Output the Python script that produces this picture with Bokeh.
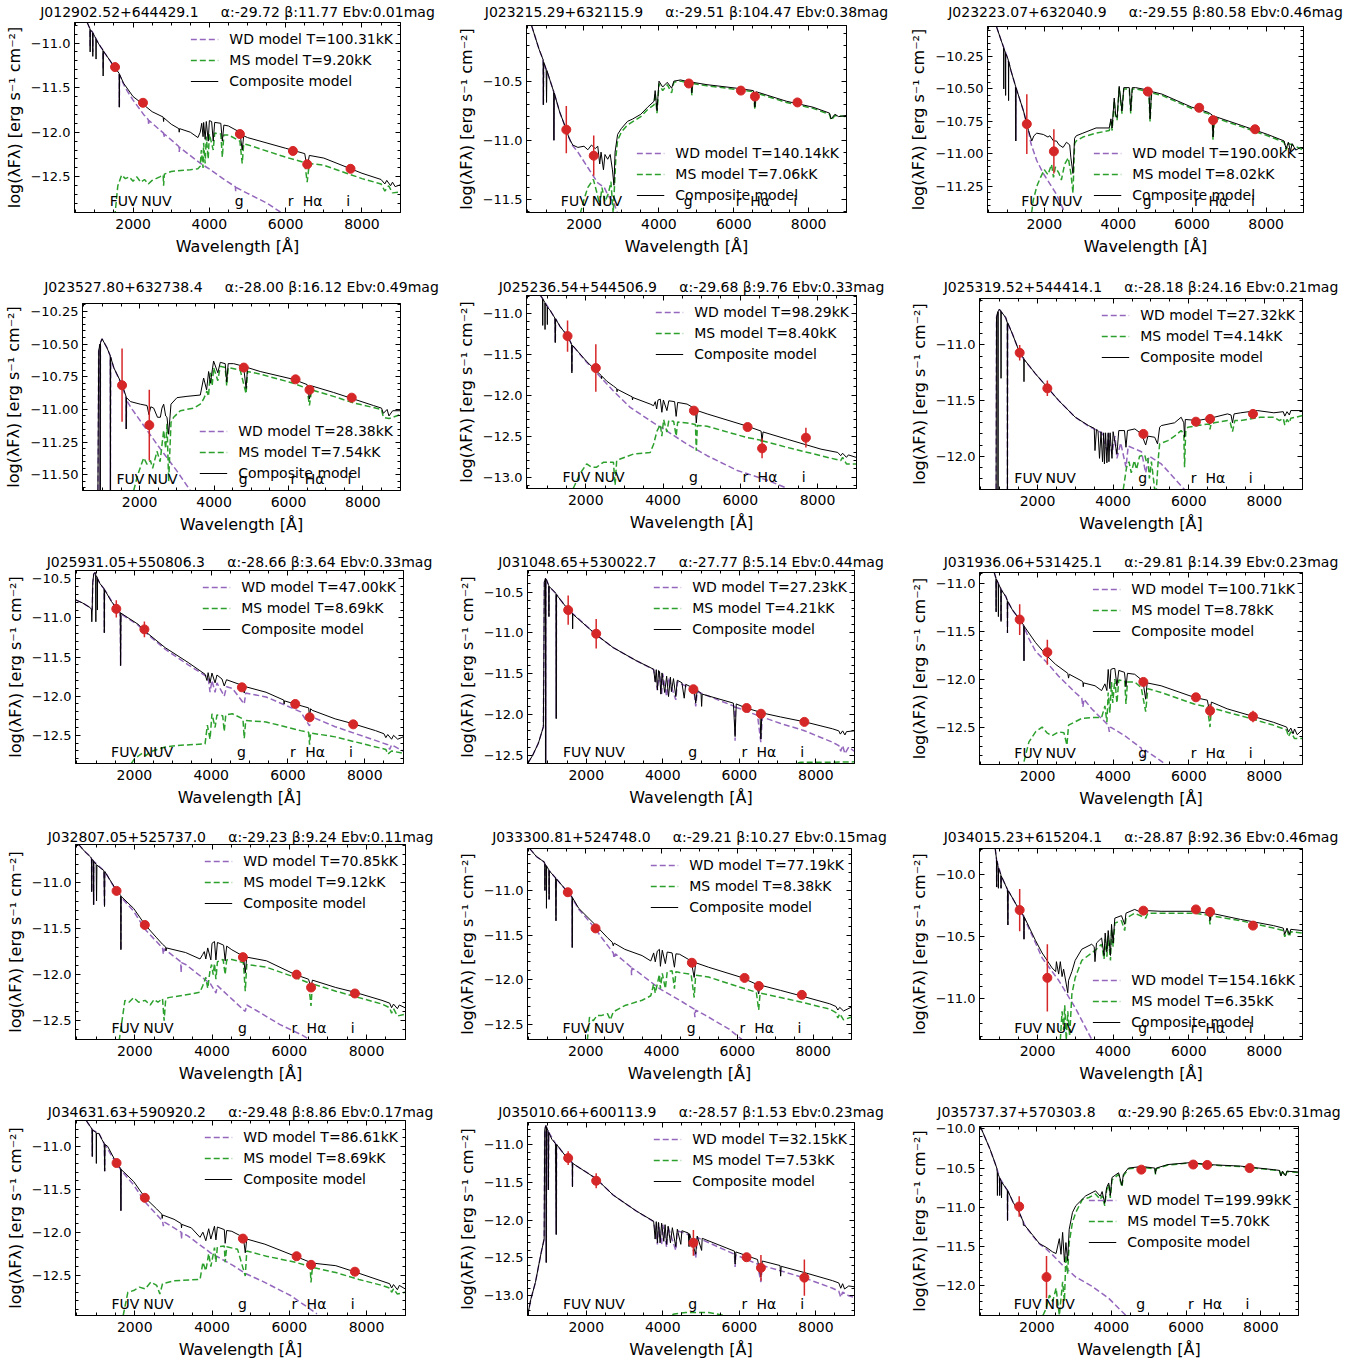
from bokeh.plotting import figure
from bokeh.models import (Range1d, LinearAxis, SingleIntervalTicker, CustomJSTickFormatter,
                          Legend, LegendItem)
from bokeh.layouts import row, column
from bokeh.embed import file_html
from bokeh.resources import INLINE
from bokeh.core.properties import value

# ---------------- data ----------------
NAMES = ["J012902.52+644429.1", "J023215.29+632115.9", "J023223.07+632040.9",
         "J023527.80+632738.4", "J025236.54+544506.9", "J025319.52+544414.1",
         "J025931.05+550806.3", "J031048.65+530022.7", "J031936.06+531425.1",
         "J032807.05+525737.0", "J033300.81+524748.0", "J034015.23+615204.1",
         "J034631.63+590920.2", "J035010.66+600113.9", "J035737.37+570303.8"]
ALPHA = [-29.72, -29.51, -29.55, -28.00, -29.68, -28.18, -28.66, -27.77, -29.81,
         -29.23, -29.21, -28.87, -29.48, -28.57, -29.90]
BETA = [11.77, 104.47, 80.58, 16.12, 9.76, 24.16, 3.64, 5.14, 14.39, 9.24, 10.27,
        92.36, 8.86, 1.53, 265.65]
EBV = [0.01, 0.38, 0.46, 0.49, 0.33, 0.21, 0.33, 0.44, 0.23, 0.11, 0.15, 0.46, 0.17, 0.23, 0.31]
WD_T = [100.31, 140.14, 190.00, 28.38, 98.29, 27.32, 47.00, 27.23, 100.71, 70.85, 77.19,
        154.16, 86.61, 32.15, 199.99]
MS_T = [9.20, 7.06, 8.02, 7.54, 8.40, 4.14, 8.69, 4.21, 8.78, 9.12, 8.38, 6.35, 8.69, 7.53, 5.70]

BANDS = ["FUV", "NUV", "g", "r", "Hα", "i"]
BAND_WL = [1528, 2260, 4800, 6190, 6565, 7700]

PHOT = [
    [-11.27, -11.67, -12.02, -12.21, -12.36, -12.41],
    [-10.91, -11.13, -10.52, -10.58, -10.63, -10.68],
    [-10.77, -10.98, -10.52, -10.645, -10.74, -10.81],
    [-10.815, -11.12, -10.68, -10.77, -10.85, -10.91],
    [-11.28, -11.67, -12.19, -12.39, -12.65, -12.52],
    [-11.07, -11.39, -11.80, -11.69, -11.665, -11.62],
    [-10.885, -11.147, -11.887, -12.10, -12.27, -12.36],
    [-10.72, -11.01, -11.69, -11.92, -11.99, -12.09],
    [-11.38, -11.72, -12.03, -12.19, -12.33, -12.39],
    [-11.09, -11.46, -11.81, -12.00, -12.14, -12.205],
    [-11.02, -11.425, -11.81, -11.98, -12.07, -12.17],
    [-10.285, -10.83, -10.29, -10.28, -10.30, -10.41],
    [-11.195, -11.60, -12.075, -12.28, -12.38, -12.46],
    [-11.18, -11.48, -12.30, -12.49, -12.63, -12.76],
    [-10.99, -11.89, -10.52, -10.455, -10.46, -10.50],
]
PHOT_ERR = [
    [0.03, 0.03, 0.02, 0.02, 0.03, 0.03],
    [0.20, 0.17, 0.02, 0.02, 0.02, 0.02],
    [0.23, 0.17, 0.02, 0.02, 0.02, 0.02],
    [0.28, 0.27, 0.02, 0.02, 0.02, 0.02],
    [0.19, 0.29, 0.03, 0.03, 0.12, 0.12],
    [0.07, 0.07, 0.02, 0.02, 0.02, 0.02],
    [0.11, 0.10, 0.02, 0.02, 0.04, 0.02],
    [0.18, 0.18, 0.02, 0.02, 0.02, 0.02],
    [0.16, 0.13, 0.02, 0.02, 0.07, 0.06],
    [0.03, 0.03, 0.02, 0.02, 0.02, 0.02],
    [0.03, 0.03, 0.02, 0.02, 0.02, 0.02],
    [0.17, 0.27, 0.02, 0.02, 0.02, 0.02],
    [0.03, 0.03, 0.02, 0.02, 0.02, 0.02],
    [0.09, 0.10, 0.17, 0.04, 0.17, 0.24],
    [0.13, 0.27, 0.02, 0.02, 0.02, 0.02],
]

# model curves: (wavelength [A], log(lambda F_lambda))
WD01 = [(798,-10.77),(870,-10.84),(875,-11.05),(880,-10.85),(940,-10.88),(945,-11.10),(950,-10.89),(1000,-10.93),(1100,-11.01),(1210,-11.08),(1216,-11.30),(1222,-11.09),(1400,-11.20),(1528,-11.28),(1636,-11.35),(1640,-11.72),(1646,-11.36),(1792,-11.50),(2000,-11.64),(2275,-11.80),(2400,-11.86),(2410,-11.92),(2420,-11.87),(2715,-11.98),(2800,-12.01),(2810,-12.06),(2820,-12.02),(3200,-12.16),(3210,-12.22),(3220,-12.17),(3769,-12.35),(4007,-12.415),(4473,-12.555),(4680,-12.61),(4690,-12.66),(4700,-12.62),(5000,-12.685),(5528,-12.80),(5880,-12.90),(6000,-12.93)]
MS01 = [(1520,-12.95),(1600,-12.60),(1700,-12.48),(1800,-12.52),(1900,-12.50),(2000,-12.55),(2100,-12.50),(2200,-12.56),(2300,-12.53),(2400,-12.58),(2500,-12.54),(2600,-12.52),(2700,-12.50),(2790,-12.48),(2800,-12.60),(2820,-12.47),(3000,-12.44),(3500,-12.42),(3700,-12.41),(3760,-12.38),(3790,-12.20),(3835,-12.40),(3850,-12.12),(3889,-12.35),(3920,-12.05),(3970,-12.30),(4000,-12.02),(4101,-12.20),(4140,-12.01),(4300,-12.02),(4340,-12.28),(4380,-12.03),(4500,-12.03),(4800,-12.10),(4861,-12.35),(4900,-12.13),(5000,-12.14),(6000,-12.28),(6500,-12.34),(6563,-12.56),(6620,-12.35),(7000,-12.37),(8000,-12.52),(8500,-12.58),(8600,-12.66),(8700,-12.60),(8800,-12.68),(9000,-12.67)]
CO01 = [(798,-10.77),(870,-10.84),(875,-11.10),(880,-10.85),(940,-10.88),(945,-11.15),(950,-10.89),(1000,-10.93),(1025,-10.95),(1030,-11.18),(1035,-10.96),(1100,-11.01),(1210,-11.08),(1216,-11.37),(1222,-11.09),(1400,-11.20),(1528,-11.28),(1636,-11.34),(1640,-11.72),(1646,-11.35),(1750,-11.45),(2000,-11.60),(2300,-11.70),(2500,-11.77),(2790,-11.83),(2800,-11.88),(2810,-11.84),(3000,-11.91),(3200,-11.96),(3210,-12.0),(3220,-11.96),(3500,-12.0),(3700,-12.06),(3760,-12.0),(3800,-11.90),(3835,-12.05),(3850,-11.89),(3889,-12.08),(3920,-11.88),(3970,-12.10),(4000,-11.87),(4060,-11.88),(4101,-12.10),(4140,-11.89),(4300,-11.90),(4340,-12.10),(4380,-11.92),(4500,-11.93),(4800,-12.00),(4861,-12.20),(4900,-12.04),(5000,-12.06),(6000,-12.18),(6500,-12.24),(6563,-12.40),(6620,-12.26),(7000,-12.29),(8000,-12.46),(8500,-12.53),(8600,-12.58),(8650,-12.54),(8750,-12.60),(8800,-12.56),(8870,-12.61),(9000,-12.59)]

WD02 = [(600,-10.03),(800,-10.23),(909,-10.32),(915,-10.70),(925,-10.34),(1000,-10.41),(1100,-10.50),(1192,-10.59),(1197,-11.00),(1205,-10.60),(1350,-10.76),(1528,-10.91),(1661,-11.03),(1837,-11.10),(2103,-11.23),(2368,-11.36),(2545,-11.40),(2633,-11.46),(2810,-11.54),(2900,-11.62)]
MS02 = [(1900,-11.62),(2000,-11.50),(2100,-11.40),(2250,-11.33),(2350,-11.45),(2420,-11.55),(2480,-11.40),(2560,-11.52),(2650,-11.45),(2720,-11.35),(2780,-11.62),(2850,-11.15),(2898,-11.00),(3000,-10.93),(3163,-10.87),(3517,-10.80),(3700,-10.74),(3871,-10.70),(3900,-10.60),(3950,-10.77),(4003,-10.52),(4101,-10.58),(4224,-10.53),(4340,-10.60),(4400,-10.51),(4578,-10.50),(4861,-10.52),(4880,-10.62),(4900,-10.52),(5285,-10.54),(6080,-10.57),(6523,-10.59),(6563,-10.74),(6600,-10.60),(7407,-10.68),(8114,-10.73),(8556,-10.78),(8600,-10.83),(8700,-10.79),(8998,-10.80)]
CO02 = [(600,-10.03),(800,-10.23),(909,-10.32),(915,-10.70),(925,-10.34),(990,-10.40),(1000,-10.68),(1010,-10.41),(1100,-10.50),(1192,-10.59),(1197,-11.00),(1205,-10.60),(1350,-10.76),(1528,-10.91),(1600,-10.98),(1700,-11.04),(1837,-11.06),(2000,-11.05),(2103,-11.08),(2200,-11.04),(2300,-11.07),(2368,-11.05),(2420,-11.20),(2456,-11.10),(2520,-11.25),(2560,-11.12),(2633,-11.16),(2700,-11.12),(2760,-11.25),(2800,-11.38),(2830,-11.10),(2898,-10.95),(3000,-10.90),(3163,-10.84),(3300,-10.82),(3517,-10.78),(3700,-10.72),(3871,-10.67),(3900,-10.58),(3950,-10.75),(4003,-10.50),(4101,-10.55),(4224,-10.51),(4340,-10.56),(4400,-10.50),(4578,-10.49),(4861,-10.51),(4880,-10.60),(4900,-10.51),(5285,-10.53),(6080,-10.56),(6523,-10.58),(6563,-10.72),(6600,-10.59),(7407,-10.67),(8114,-10.72),(8556,-10.77),(8600,-10.82),(8700,-10.78),(8800,-10.80),(8998,-10.79)]

WD03 = [(707,-10.02),(850,-10.14),(993,-10.25),(1100,-10.36),(1225,-10.48),(1230,-10.90),(1235,-10.49),(1439,-10.67),(1573,-10.82),(1640,-10.92),(1796,-11.05),(1974,-11.15),(2152,-11.23),(2331,-11.31),(2554,-11.45)]
MS03 = [(1660,-11.45),(1700,-11.36),(1796,-11.25),(1900,-11.18),(2000,-11.12),(2100,-11.16),(2196,-11.08),(2250,-11.18),(2300,-11.10),(2400,-11.15),(2463,-11.20),(2550,-11.08),(2650,-11.03),(2720,-11.15),(2777,-11.30),(2820,-10.92),(2866,-10.90),(3044,-10.87),(3401,-10.84),(3758,-10.82),(3803,-10.75),(3835,-10.82),(3892,-10.59),(3930,-10.72),(3970,-10.74),(4026,-10.49),(4101,-10.69),(4150,-10.50),(4300,-10.50),(4338,-10.69),(4380,-10.50),(4472,-10.50),(4828,-10.52),(4861,-10.75),(4900,-10.53),(5185,-10.55),(5988,-10.65),(6434,-10.69),(6541,-10.71),(6563,-10.89),(6600,-10.72),(7326,-10.79),(8040,-10.86),(8486,-10.91),(8540,-10.97),(8600,-10.92),(8700,-10.93),(8932,-10.96),(9000,-10.97)]
CO03 = [(707,-10.02),(850,-10.14),(900,-10.18),(905,-10.50),(910,-10.19),(950,-10.22),(955,-10.55),(960,-10.23),(993,-10.25),(1030,-10.28),(1035,-10.59),(1040,-10.29),(1100,-10.36),(1225,-10.48),(1230,-10.90),(1235,-10.49),(1439,-10.67),(1573,-10.82),(1662,-10.90),(1720,-10.86),(1796,-10.84),(1974,-10.85),(2100,-10.87),(2152,-10.86),(2250,-10.90),(2331,-10.90),(2400,-10.93),(2509,-10.95),(2600,-10.91),(2688,-10.93),(2720,-11.03),(2777,-11.15),(2820,-10.88),(2866,-10.86),(3044,-10.84),(3401,-10.80),(3758,-10.80),(3803,-10.73),(3835,-10.80),(3892,-10.57),(3930,-10.70),(3970,-10.72),(4026,-10.48),(4101,-10.67),(4150,-10.49),(4300,-10.49),(4338,-10.67),(4380,-10.49),(4472,-10.49),(4828,-10.51),(4861,-10.73),(4900,-10.52),(5185,-10.54),(5988,-10.64),(6434,-10.68),(6541,-10.70),(6563,-10.87),(6600,-10.71),(7326,-10.78),(8040,-10.85),(8486,-10.90),(8540,-10.96),(8600,-10.91),(8660,-10.98),(8700,-10.92),(8800,-10.97),(8932,-10.95),(9000,-10.96)]

WD04 = [(880,-11.62),(900,-10.55),(935,-10.50),(940,-11.62),(947,-10.49),(991,-10.46),(1125,-10.53),(1210,-10.59),(1215,-11.62),(1222,-10.60),(1304,-10.68),(1528,-10.82),(1635,-10.91),(1640,-11.15),(1648,-10.93),(1800,-11.00),(2000,-11.08),(2500,-11.28),(3000,-11.47),(3361,-11.62)]
MS04 = [(1841,-11.62),(1950,-11.50),(2110,-11.37),(2200,-11.42),(2290,-11.39),(2350,-11.45),(2467,-11.32),(2550,-11.40),(2646,-11.16),(2700,-11.30),(2736,-11.11),(2780,-11.55),(2843,-11.10),(2915,-11.06),(3093,-11.01),(3451,-10.99),(3630,-10.96),(3720,-10.92),(3809,-10.86),(3850,-10.90),(3900,-10.72),(3950,-10.82),(3988,-10.68),(4101,-10.78),(4167,-10.67),(4300,-10.68),(4340,-10.82),(4380,-10.68),(4703,-10.70),(4861,-10.88),(4900,-10.71),(5240,-10.73),(6135,-10.80),(6500,-10.84),(6563,-10.97),(6620,-10.85),(7208,-10.90),(7745,-10.95),(8500,-11.00),(8550,-11.06),(8700,-11.07),(8997,-11.04)]
CO04 = [(880,-11.62),(900,-10.55),(935,-10.50),(940,-11.62),(947,-10.49),(991,-10.46),(1125,-10.53),(1210,-10.59),(1215,-11.62),(1222,-10.60),(1304,-10.68),(1528,-10.81),(1635,-10.90),(1640,-11.15),(1648,-10.91),(1752,-10.94),(2020,-10.96),(2199,-10.97),(2250,-11.04),(2300,-10.98),(2378,-10.99),(2480,-11.06),(2557,-11.06),(2600,-10.99),(2646,-10.96),(2700,-11.05),(2736,-11.06),(2780,-11.19),(2843,-10.96),(3004,-10.91),(3272,-10.90),(3630,-10.89),(3720,-10.76),(3800,-10.85),(3854,-10.71),(3900,-10.80),(3988,-10.63),(4101,-10.72),(4167,-10.64),(4300,-10.65),(4340,-10.79),(4380,-10.65),(4525,-10.65),(4793,-10.67),(4861,-10.84),(4900,-10.68),(5240,-10.71),(6135,-10.77),(6500,-10.81),(6563,-10.92),(6620,-10.82),(7208,-10.87),(7745,-10.92),(8281,-10.97),(8500,-10.99),(8550,-11.03),(8650,-11.00),(8700,-11.05),(8800,-11.01),(8997,-11.01)]

WD05 = [(826,-10.785),(1069,-10.96),(1199,-11.06),(1210,-11.36),(1220,-11.07),(1329,-11.16),(1528,-11.28),(1632,-11.38),(1640,-11.72),(1650,-11.39),(2022,-11.60),(2282,-11.73),(2716,-11.95),(3149,-12.15),(3756,-12.34),(4103,-12.44),(4623,-12.60),(5143,-12.74),(5924,-12.92),(6704,-13.04),(7224,-13.14)]
MS05 = [(1675,-13.14),(1849,-12.96),(2022,-12.84),(2150,-12.88),(2282,-12.88),(2456,-12.82),(2716,-12.82),(2760,-13.10),(2800,-12.80),(2890,-12.78),(3236,-12.72),(3669,-12.70),(3756,-12.60),(3843,-12.44),(3930,-12.36),(3970,-12.50),(4016,-12.30),(4101,-12.45),(4150,-12.31),(4276,-12.32),(4340,-12.50),(4380,-12.33),(4623,-12.34),(4840,-12.36),(4861,-12.68),(4890,-12.37),(5143,-12.38),(6184,-12.52),(6540,-12.55),(6563,-12.70),(6590,-12.56),(7224,-12.64),(8091,-12.74),(8600,-12.80),(8650,-12.76),(8750,-12.84),(9000,-12.84)]
CO05 = [(826,-10.785),(880,-10.82),(885,-11.15),(890,-10.83),(940,-10.87),(945,-11.20),(950,-10.88),(1000,-10.92),(1005,-11.14),(1010,-10.93),(1069,-10.96),(1199,-11.06),(1210,-11.36),(1220,-11.07),(1329,-11.16),(1528,-11.28),(1632,-11.38),(1640,-11.73),(1650,-11.39),(2022,-11.59),(2282,-11.71),(2400,-11.76),(2410,-11.80),(2420,-11.77),(2542,-11.83),(2716,-11.89),(2800,-11.92),(2810,-11.96),(2820,-11.93),(3149,-12.01),(3200,-12.02),(3210,-12.06),(3220,-12.03),(3669,-12.11),(3756,-12.13),(3800,-12.08),(3835,-12.17),(3870,-12.06),(3930,-12.05),(3970,-12.21),(4010,-12.06),(4101,-12.19),(4150,-12.07),(4300,-12.08),(4340,-12.26),(4380,-12.09),(4623,-12.11),(4840,-12.17),(4861,-12.34),(4890,-12.19),(5143,-12.23),(6184,-12.38),(6540,-12.44),(6563,-12.56),(6590,-12.45),(7224,-12.54),(8091,-12.66),(8525,-12.70),(8600,-12.74),(8650,-12.71),(8750,-12.76),(8800,-12.73),(9000,-12.76)]

WD06 = [(905,-12.30),(915,-10.75),(985,-10.68),(1160,-10.755),(1200,-10.80),(1204,-12.30),(1210,-10.80),(1335,-10.90),(1528,-11.07),(1640,-11.13),(1948,-11.26),(2255,-11.38),(2561,-11.50),(2999,-11.65),(3349,-11.73),(3699,-11.79),(3835,-11.95),(3874,-11.80),(3970,-11.98),(4049,-11.82),(4101,-12.02),(4200,-11.88),(4340,-12.10),(4400,-11.91),(4750,-11.96),(4861,-12.15),(4950,-12.00),(5275,-12.07),(5888,-12.30)]
MS06 = [(4268,-12.30),(4356,-12.10),(4420,-12.05),(4480,-12.15),(4560,-12.04),(4620,-12.12),(4700,-12.00),(4837,-11.99),(4880,-12.05),(4920,-12.02),(4960,-12.20),(5013,-12.05),(5100,-12.30),(5144,-12.30),(5200,-12.00),(5231,-11.89),(5450,-11.86),(5625,-11.82),(5800,-11.77),(5870,-11.80),(5890,-12.10),(5920,-11.78),(5975,-11.74),(6238,-11.725),(6540,-11.71),(6563,-11.76),(6590,-11.71),(6676,-11.70),(7026,-11.68),(7100,-11.70),(7158,-11.78),(7220,-11.68),(7376,-11.68),(7902,-11.65),(8252,-11.65),(8400,-11.68),(8500,-11.66),(8542,-11.72),(8600,-11.67),(8662,-11.70),(8700,-11.66),(9013,-11.635)]
CO06 = [(905,-12.30),(915,-10.75),(950,-10.70),(955,-12.30),(960,-10.70),(985,-10.68),(1030,-10.69),(1035,-11.30),(1040,-10.70),(1160,-10.755),(1200,-10.80),(1204,-12.30),(1210,-10.80),(1335,-10.90),(1528,-11.07),(1636,-11.12),(1642,-11.33),(1648,-11.13),(1948,-11.26),(2255,-11.38),(2561,-11.50),(2999,-11.65),(3349,-11.725),(3500,-11.75),(3520,-11.95),(3560,-11.76),(3600,-11.77),(3640,-12.02),(3680,-11.78),(3720,-12.05),(3750,-11.79),(3770,-12.07),(3800,-11.79),(3835,-12.06),(3870,-11.79),(3889,-12.05),(3920,-11.79),(3970,-12.02),(4000,-11.78),(4101,-11.98),(4150,-11.77),(4300,-11.77),(4340,-11.92),(4380,-11.77),(4575,-11.755),(4750,-11.80),(4861,-11.90),(4920,-11.82),(5100,-11.83),(5175,-11.89),(5231,-11.74),(5275,-11.725),(5625,-11.70),(5800,-11.65),(5870,-11.70),(5890,-11.83),(5910,-11.67),(6238,-11.68),(6540,-11.66),(6563,-11.71),(6590,-11.66),(6676,-11.65),(7026,-11.62),(7120,-11.63),(7158,-11.70),(7200,-11.62),(7376,-11.61),(7814,-11.59),(8252,-11.61),(8500,-11.60),(8542,-11.64),(8600,-11.60),(8662,-11.63),(8700,-11.59),(9013,-11.59)]

WD07 = [(470,-10.77),(650,-10.81),(850,-10.87),(900,-10.90),(915,-10.55),(940,-10.44),(975,-10.42),(1000,-10.46),(1100,-10.56),(1210,-10.63),(1216,-11.19),(1222,-10.64),(1524,-10.88),(1630,-10.94),(1640,-11.61),(1650,-10.95),(2090,-11.09),(2275,-11.18),(2800,-11.40),(3400,-11.60),(3920,-11.76),(3970,-11.95),(4020,-11.80),(4101,-11.95),(4150,-11.83),(4340,-12.00),(4400,-11.88),(4550,-11.90),(4861,-12.10),(4900,-11.96),(5430,-12.01),(6330,-12.20),(6563,-12.38),(6600,-12.26),(7230,-12.39),(8130,-12.54),(8600,-12.62),(8650,-12.68),(8700,-12.62),(8880,-12.67),(9000,-12.70)]
MS07 = [(1920,-12.86),(2000,-12.80),(2200,-12.73),(2300,-12.76),(2400,-12.71),(2600,-12.68),(2800,-12.65),(3100,-12.63),(3840,-12.61),(3880,-12.45),(3900,-12.37),(3970,-12.55),(4020,-12.225),(4101,-12.40),(4150,-12.24),(4300,-12.25),(4340,-12.45),(4380,-12.24),(4550,-12.225),(4827,-12.29),(4861,-12.54),(4900,-12.31),(5430,-12.33),(6330,-12.44),(6540,-12.46),(6563,-12.62),(6590,-12.47),(7230,-12.52),(8130,-12.63),(8550,-12.68),(8600,-12.74),(8700,-12.70),(9000,-12.73)]
CO07 = [(470,-10.77),(650,-10.81),(850,-10.87),(880,-10.89),(890,-11.05),(900,-10.90),(915,-10.55),(940,-10.44),(975,-10.42),(990,-10.45),(995,-11.05),(1000,-10.46),(1030,-10.48),(1035,-10.90),(1040,-10.50),(1100,-10.56),(1210,-10.63),(1216,-11.19),(1222,-10.64),(1400,-10.79),(1524,-10.87),(1630,-10.93),(1640,-11.61),(1650,-10.94),(2090,-11.08),(2275,-11.17),(2800,-11.38),(3400,-11.57),(3840,-11.72),(3889,-11.80),(3920,-11.70),(3970,-11.83),(4020,-11.705),(4101,-11.83),(4150,-11.73),(4280,-11.78),(4340,-11.87),(4400,-11.79),(4827,-11.865),(4861,-11.96),(4900,-11.88),(5430,-11.95),(5890,-12.05),(5900,-12.10),(5910,-12.06),(6178,-12.10),(6540,-12.15),(6563,-12.27),(6590,-12.16),(6630,-12.18),(7230,-12.29),(7681,-12.35),(8280,-12.44),(8500,-12.48),(8550,-12.53),(8600,-12.49),(8700,-12.55),(8750,-12.50),(8860,-12.55),(9000,-12.52)]

WD08 = [(470,-12.60),(600,-12.50),(750,-12.35),(880,-12.15),(905,-10.38),(935,-10.33),(940,-12.60),(946,-10.34),(971,-10.36),(1020,-10.42),(1025,-10.80),(1030,-10.43),(1210,-10.52),(1216,-12.05),(1222,-10.53),(1500,-10.70),(2253,-11.02),(2705,-11.18),(3308,-11.34),(3762,-11.45),(3860,-11.70),(3913,-11.48),(3970,-11.75),(4000,-11.50),(4101,-11.78),(4150,-11.55),(4340,-11.82),(4380,-11.60),(4816,-11.70),(4861,-11.90),(4900,-11.72),(5876,-11.90),(5890,-12.32),(5900,-11.91),(6024,-11.93),(6476,-12.01),(6563,-12.34),(6600,-12.03),(7080,-12.11),(7683,-12.195),(8437,-12.34),(8600,-12.38),(8650,-12.45),(8700,-12.38),(8760,-12.48),(8859,-12.40),(9000,-12.45)]
MS08 = [(7300,-12.62),(7600,-12.585),(8200,-12.585),(9000,-12.58)]
CO08 = [(470,-12.60),(600,-12.50),(750,-12.35),(880,-12.15),(905,-10.38),(935,-10.33),(940,-12.60),(946,-10.34),(971,-10.36),(1020,-10.42),(1025,-10.80),(1030,-10.43),(1198,-10.51),(1210,-10.52),(1216,-12.05),(1222,-10.53),(1500,-10.70),(1640,-10.76),(1645,-10.95),(1650,-10.77),(2253,-11.02),(2705,-11.18),(3308,-11.34),(3762,-11.445),(3800,-11.60),(3830,-11.45),(3860,-11.70),(3890,-11.46),(3913,-11.47),(3950,-11.75),(3980,-11.49),(4050,-11.73),(4101,-11.53),(4150,-11.78),(4200,-11.54),(4226,-11.72),(4280,-11.56),(4340,-11.78),(4380,-11.58),(4500,-11.61),(4560,-11.80),(4600,-11.63),(4816,-11.68),(4861,-11.86),(4900,-11.70),(5000,-11.74),(5015,-11.90),(5030,-11.75),(5845,-11.86),(5890,-12.27),(5920,-11.87),(6176,-11.92),(6540,-11.97),(6563,-12.30),(6590,-11.98),(7080,-12.03),(7713,-12.09),(8437,-12.175),(8600,-12.20),(8640,-12.24),(8700,-12.20),(8760,-12.25),(8800,-12.21),(9000,-12.20)]

WD09 = [(855,-10.89),(900,-10.95),(905,-11.30),(910,-10.96),(1030,-11.06),(1035,-11.40),(1040,-11.07),(1161,-11.14),(1200,-11.18),(1205,-11.52),(1210,-11.19),(1336,-11.28),(1528,-11.38),(1636,-11.45),(1642,-11.81),(1648,-11.46),(1773,-11.58),(1948,-11.71),(2253,-11.83),(2559,-11.97),(2996,-12.14),(3171,-12.20),(3200,-12.29),(3230,-12.21),(3433,-12.31),(3870,-12.48),(3900,-12.55),(3930,-12.50),(4307,-12.59),(4744,-12.72),(4800,-12.82),(4850,-12.74),(5181,-12.83),(5400,-12.89)]
MS09 = [(1642,-12.86),(1773,-12.655),(1948,-12.55),(2122,-12.50),(2250,-12.56),(2385,-12.59),(2559,-12.55),(2700,-12.56),(2778,-12.69),(2821,-12.48),(3171,-12.41),(3521,-12.40),(3695,-12.40),(3783,-12.28),(3835,-12.45),(3870,-12.14),(3914,-12.35),(3958,-12.03),(3990,-12.25),(4045,-12.00),(4101,-12.25),(4150,-12.01),(4307,-12.02),(4340,-12.26),(4380,-12.03),(4570,-12.03),(4744,-12.09),(4861,-12.34),(4919,-12.10),(5269,-12.14),(6143,-12.26),(6492,-12.29),(6563,-12.50),(6600,-12.30),(7017,-12.345),(7629,-12.41),(8240,-12.48),(8590,-12.53),(8640,-12.60),(8700,-12.55),(8800,-12.62),(9001,-12.62)]
CO09 = [(855,-10.89),(900,-10.95),(905,-11.30),(910,-10.96),(960,-11.00),(965,-11.35),(970,-11.01),(1030,-11.06),(1035,-11.40),(1040,-11.07),(1161,-11.14),(1200,-11.18),(1205,-11.52),(1210,-11.19),(1336,-11.28),(1528,-11.38),(1636,-11.44),(1642,-11.81),(1648,-11.45),(1948,-11.62),(2253,-11.76),(2472,-11.845),(2800,-11.94),(2821,-11.99),(2840,-11.95),(3171,-12.02),(3200,-12.03),(3210,-12.08),(3220,-12.04),(3521,-12.07),(3695,-12.12),(3783,-12.05),(3835,-12.12),(3870,-11.90),(3914,-12.10),(3940,-11.90),(4000,-11.89),(4045,-11.89),(4101,-12.07),(4150,-11.91),(4300,-11.93),(4340,-12.08),(4380,-11.94),(4570,-11.95),(4788,-12.02),(4861,-12.21),(4900,-12.04),(5269,-12.07),(6143,-12.19),(6492,-12.22),(6563,-12.36),(6600,-12.24),(7017,-12.31),(7629,-12.38),(8240,-12.45),(8590,-12.50),(8640,-12.55),(8700,-12.51),(8760,-12.57),(8800,-12.52),(8870,-12.58),(9001,-12.53)]

WD10 = [(548,-10.586),(700,-10.66),(853,-10.72),(880,-10.74),(885,-11.10),(890,-10.75),(928,-10.76),(935,-11.24),(940,-10.77),(1200,-10.87),(1216,-11.26),(1225,-10.88),(1521,-11.09),(1635,-11.15),(1641,-11.73),(1648,-11.16),(1970,-11.31),(2269,-11.51),(2718,-11.71),(2740,-11.78),(2760,-11.72),(3190,-11.86),(3200,-11.98),(3210,-11.87),(3316,-11.89),(3961,-12.10),(4101,-12.20),(4140,-12.12),(4552,-12.28),(4861,-12.40),(4900,-12.33),(5150,-12.39),(5748,-12.54),(6345,-12.66),(6568,-12.715)]
MS10 = [(1595,-12.72),(1745,-12.28),(1850,-12.30),(1970,-12.25),(2100,-12.30),(2269,-12.28),(2400,-12.33),(2500,-12.27),(2600,-12.30),(2718,-12.26),(2760,-12.50),(2800,-12.27),(2867,-12.25),(3465,-12.21),(3690,-12.19),(3760,-12.12),(3839,-12.03),(3889,-12.15),(3950,-11.95),(3989,-11.89),(4030,-12.00),(4064,-11.88),(4101,-12.05),(4140,-11.86),(4288,-11.835),(4340,-12.00),(4380,-11.84),(4513,-11.835),(4812,-11.87),(4861,-12.18),(4900,-11.89),(5410,-11.92),(6158,-12.03),(6500,-12.09),(6563,-12.34),(6600,-12.10),(7205,-12.18),(7803,-12.25),(8402,-12.32),(8600,-12.36),(8650,-12.42),(8700,-12.37),(8800,-12.45),(9000,-12.43)]
CO10 = [(548,-10.586),(700,-10.66),(853,-10.72),(880,-10.74),(885,-11.10),(890,-10.75),(928,-10.76),(935,-11.24),(940,-10.77),(1000,-10.80),(1010,-11.20),(1020,-10.81),(1200,-10.87),(1216,-11.26),(1225,-10.88),(1400,-11.00),(1521,-11.08),(1635,-11.14),(1641,-11.73),(1648,-11.15),(1970,-11.28),(2269,-11.46),(2568,-11.60),(2718,-11.67),(2800,-11.70),(2810,-11.74),(2820,-11.71),(3316,-11.76),(3690,-11.83),(3760,-11.78),(3800,-11.75),(3839,-11.83),(3889,-11.71),(3970,-11.84),(4000,-11.66),(4064,-11.64),(4101,-11.84),(4140,-11.65),(4300,-11.68),(4340,-11.85),(4380,-11.69),(4513,-11.73),(4812,-11.80),(4861,-11.98),(4900,-11.81),(5410,-11.85),(6158,-12.00),(6500,-12.05),(6563,-12.14),(6600,-12.06),(7205,-12.14),(7684,-12.19),(8402,-12.28),(8600,-12.31),(8650,-12.36),(8700,-12.32),(8800,-12.37),(8850,-12.33),(9000,-12.36)]

WD11 = [(521,-10.53),(700,-10.62),(902,-10.68),(920,-10.70),(925,-11.00),(930,-10.71),(1030,-10.77),(1035,-11.10),(1040,-10.78),(1206,-10.86),(1216,-11.34),(1226,-10.87),(1510,-11.01),(1640,-11.08),(1645,-11.64),(1650,-11.09),(1815,-11.21),(2241,-11.42),(2423,-11.53),(2727,-11.70),(2750,-11.76),(2780,-11.71),(3200,-11.86),(3210,-11.95),(3220,-11.87),(3336,-11.90),(3944,-12.10),(4553,-12.25),(4861,-12.33),(4880,-12.42),(4900,-12.34),(5162,-12.40),(5770,-12.55),(6151,-12.68)]
MS11 = [(2043,-12.68),(2100,-12.42),(2200,-12.46),(2300,-12.40),(2423,-12.40),(2575,-12.38),(2650,-12.45),(2727,-12.36),(3032,-12.29),(3488,-12.23),(3716,-12.18),(3792,-12.05),(3835,-12.15),(3944,-11.94),(3970,-12.10),(4020,-11.93),(4101,-12.10),(4150,-11.91),(4279,-11.90),(4340,-12.10),(4380,-11.91),(4477,-11.92),(4781,-11.94),(4861,-12.20),(4900,-11.95),(5239,-11.97),(6076,-12.085),(6500,-12.14),(6562,-12.34),(6600,-12.15),(7140,-12.20),(7673,-12.25),(8437,-12.33),(8600,-12.37),(8650,-12.43),(8700,-12.38),(8800,-12.45),(8997,-12.42)]
CO11 = [(521,-10.53),(700,-10.62),(902,-10.68),(920,-10.70),(925,-11.00),(930,-10.71),(960,-10.72),(965,-11.20),(970,-10.73),(1030,-10.77),(1035,-11.10),(1040,-10.78),(1206,-10.86),(1216,-11.34),(1226,-10.87),(1510,-11.01),(1586,-11.05),(1640,-11.07),(1645,-11.64),(1650,-11.08),(1815,-11.20),(2241,-11.38),(2575,-11.53),(2700,-11.58),(2727,-11.62),(2750,-11.59),(3032,-11.66),(3488,-11.73),(3716,-11.79),(3792,-11.70),(3835,-11.80),(3889,-11.68),(3944,-11.66),(3970,-11.85),(4020,-11.67),(4101,-11.82),(4150,-11.69),(4279,-11.70),(4340,-11.86),(4380,-11.71),(4477,-11.715),(4781,-11.79),(4861,-11.975),(4900,-11.81),(5239,-11.86),(6076,-11.97),(6500,-12.05),(6562,-12.16),(6600,-12.06),(7140,-12.12),(7673,-12.18),(8437,-12.27),(8600,-12.30),(8650,-12.34),(8700,-12.31),(8800,-12.35),(8997,-12.31)]

WD12 = [(881,-9.79),(916,-9.88),(920,-10.10),(925,-9.89),(1030,-10.00),(1035,-10.11),(1040,-10.01),(1205,-10.12),(1216,-10.405),(1225,-10.13),(1528,-10.29),(1636,-10.34),(1642,-10.52),(1650,-10.35),(1948,-10.55),(2122,-10.67),(2559,-10.85),(2996,-11.07),(3433,-11.325)]
MS12 = [(2603,-11.33),(2650,-11.10),(2690,-11.25),(2720,-11.05),(2760,-11.33),(2800,-11.10),(2850,-11.30),(2909,-10.96),(2996,-10.83),(3171,-10.69),(3521,-10.61),(3695,-10.56),(3760,-10.68),(3790,-10.52),(3835,-10.66),(3870,-10.49),(3930,-10.69),(3958,-10.44),(4000,-10.58),(4045,-10.39),(4220,-10.37),(4307,-10.45),(4340,-10.35),(4570,-10.31),(4861,-10.35),(4919,-10.31),(5269,-10.31),(6143,-10.31),(6492,-10.325),(6540,-10.33),(6563,-10.40),(6590,-10.33),(7366,-10.37),(8240,-10.43),(8500,-10.45),(8540,-10.50),(8600,-10.45),(8662,-10.50),(8700,-10.46),(9001,-10.47)]
CO12 = [(881,-9.79),(916,-9.88),(920,-10.10),(925,-9.89),(960,-9.94),(965,-10.11),(970,-9.95),(1030,-10.00),(1035,-10.11),(1040,-10.01),(1205,-10.12),(1216,-10.405),(1225,-10.13),(1248,-10.14),(1528,-10.29),(1636,-10.33),(1642,-10.52),(1648,-10.34),(1948,-10.53),(2122,-10.63),(2385,-10.75),(2480,-10.78),(2500,-10.70),(2559,-10.80),(2603,-10.70),(2650,-10.82),(2690,-10.76),(2760,-10.88),(2800,-10.95),(2822,-10.85),(2909,-10.78),(2996,-10.69),(3171,-10.60),(3433,-10.56),(3500,-10.58),(3520,-10.70),(3560,-10.55),(3695,-10.51),(3760,-10.65),(3790,-10.47),(3835,-10.62),(3870,-10.45),(3930,-10.65),(3958,-10.40),(4000,-10.55),(4045,-10.35),(4220,-10.33),(4307,-10.40),(4340,-10.31),(4570,-10.28),(4861,-10.32),(4919,-10.29),(5269,-10.295),(6143,-10.295),(6492,-10.31),(6540,-10.31),(6563,-10.37),(6590,-10.31),(7366,-10.36),(8240,-10.41),(8500,-10.43),(8540,-10.48),(8600,-10.43),(8662,-10.48),(8700,-10.44),(9001,-10.45)]

WD13 = [(743,-10.70),(893,-10.80),(900,-11.12),(905,-10.81),(1072,-10.85),(1210,-10.97),(1221,-11.29),(1230,-10.98),(1521,-11.20),(1635,-11.27),(1641,-11.75),(1648,-11.28),(1970,-11.45),(2269,-11.65),(2718,-11.87),(2740,-11.93),(2760,-11.88),(3200,-12.00),(3210,-12.08),(3220,-12.01),(3363,-12.04),(3961,-12.24),(4552,-12.39),(4861,-12.48),(5300,-12.57),(6045,-12.74),(6718,-12.95)]
MS13 = [(1700,-12.97),(1820,-12.70),(1970,-12.68),(2119,-12.64),(2269,-12.66),(2418,-12.58),(2568,-12.62),(2650,-12.72),(2718,-12.60),(3017,-12.565),(3690,-12.55),(3764,-12.35),(3839,-12.45),(3914,-12.25),(3970,-12.40),(4064,-12.18),(4101,-12.35),(4139,-12.17),(4318,-12.16),(4340,-12.35),(4380,-12.17),(4662,-12.20),(4861,-12.51),(4900,-12.22),(5410,-12.28),(6158,-12.35),(6540,-12.40),(6563,-12.585),(6600,-12.41),(7205,-12.47),(7803,-12.55),(8402,-12.62),(8600,-12.65),(8650,-12.70),(8700,-12.66),(8800,-12.72),(9000,-12.70)]
CO13 = [(743,-10.70),(893,-10.80),(900,-11.12),(905,-10.81),(1000,-10.84),(1005,-11.20),(1010,-10.85),(1072,-10.85),(1147,-10.92),(1210,-10.97),(1221,-11.29),(1230,-10.98),(1296,-11.00),(1521,-11.19),(1635,-11.26),(1641,-11.75),(1648,-11.27),(1970,-11.41),(2269,-11.60),(2568,-11.73),(2700,-11.79),(2710,-11.84),(2720,-11.80),(3017,-11.85),(3200,-11.90),(3210,-11.95),(3220,-11.91),(3465,-11.95),(3690,-12.06),(3764,-12.00),(3839,-12.10),(3914,-11.96),(3970,-12.08),(4064,-11.93),(4101,-12.09),(4139,-11.94),(4318,-11.97),(4340,-12.13),(4380,-11.98),(4513,-11.99),(4812,-12.06),(4861,-12.24),(4900,-12.08),(5370,-12.14),(6158,-12.28),(6540,-12.35),(6563,-12.43),(6600,-12.36),(7205,-12.39),(7684,-12.46),(8402,-12.57),(8600,-12.60),(8650,-12.65),(8700,-12.61),(8800,-12.67),(8850,-12.62),(9000,-12.66)]

WD14 = [(470,-13.26),(550,-13.05),(671,-12.825),(822,-12.43),(900,-12.25),(915,-10.80),(948,-10.75),(955,-12.56),(962,-10.77),(1000,-10.82),(1010,-11.60),(1020,-10.84),(1198,-10.99),(1216,-12.19),(1225,-11.00),(1500,-11.18),(1635,-11.24),(1640,-11.56),(1645,-11.25),(2254,-11.45),(2707,-11.67),(3310,-11.88),(3762,-12.02),(3860,-12.32),(3889,-12.04),(3970,-12.32),(4000,-12.06),(4101,-12.36),(4140,-12.09),(4340,-12.40),(4380,-12.14),(4667,-12.19),(4861,-12.50),(4900,-12.23),(5873,-12.45),(5890,-12.62),(5910,-12.46),(6476,-12.58),(6563,-12.82),(6600,-12.60),(7080,-12.67),(7683,-12.76),(8437,-12.90),(8600,-12.94),(8650,-13.02),(8700,-12.95),(8859,-13.00),(9000,-13.02)]
MS14 = [(3900,-13.40),(4100,-13.28),(4300,-13.24),(4600,-13.22),(5200,-13.22),(5700,-13.27),(6500,-13.32),(9000,-13.40)]
CO14 = [(470,-13.26),(550,-13.05),(671,-12.825),(822,-12.43),(900,-12.25),(915,-10.80),(948,-10.75),(955,-12.56),(962,-10.77),(1000,-10.82),(1010,-11.60),(1020,-10.84),(1100,-10.93),(1198,-10.99),(1216,-12.19),(1225,-11.00),(1500,-11.18),(1635,-11.24),(1640,-11.56),(1645,-11.25),(2254,-11.45),(2707,-11.67),(3310,-11.88),(3762,-12.015),(3800,-12.25),(3830,-12.02),(3860,-12.30),(3889,-12.03),(3930,-12.30),(3970,-12.04),(4026,-12.28),(4060,-12.06),(4101,-12.32),(4140,-12.08),(4200,-12.30),(4250,-12.10),(4340,-12.35),(4380,-12.12),(4471,-12.32),(4500,-12.14),(4667,-12.17),(4686,-12.35),(4700,-12.18),(4861,-12.45),(4900,-12.21),(5015,-12.40),(5030,-12.24),(5873,-12.41),(5890,-12.58),(5910,-12.42),(6476,-12.52),(6563,-12.75),(6600,-12.54),(7065,-12.60),(7080,-12.74),(7095,-12.61),(7683,-12.69),(8437,-12.80),(8600,-12.83),(8650,-12.90),(8700,-12.84),(8750,-12.91),(8859,-12.87),(9000,-12.88)]

WD15 = [(488,-9.97),(752,-10.265),(928,-10.50),(1000,-10.62),(1005,-10.85),(1010,-10.63),(1193,-10.77),(1211,-10.78),(1216,-11.17),(1222,-10.79),(1369,-10.94),(1528,-11.065),(1678,-11.23),(1898,-11.37),(2075,-11.47),(2251,-11.53),(2427,-11.61),(2692,-11.74),(3045,-11.89),(3485,-12.01),(3926,-12.16),(4280,-12.33),(4368,-12.37),(4400,-12.45)]
MS15 = [(2163,-12.38),(2251,-12.29),(2339,-12.12),(2427,-12.20),(2516,-12.03),(2604,-12.38),(2692,-11.95),(2740,-12.20),(2780,-11.61),(2824,-11.85),(2868,-11.45),(2956,-11.19),(3045,-11.065),(3221,-10.90),(3397,-10.875),(3573,-10.83),(3700,-10.90),(3750,-10.85),(3820,-10.98),(3870,-10.78),(3926,-10.71),(3970,-10.88),(4014,-10.65),(4191,-10.58),(4279,-10.74),(4320,-10.60),(4455,-10.51),(4808,-10.49),(5161,-10.51),(5180,-10.58),(5200,-10.51),(5513,-10.46),(6130,-10.435),(6571,-10.46),(7453,-10.48),(8335,-10.525),(8500,-10.535),(8542,-10.605),(8580,-10.545),(8662,-10.605),(8700,-10.545),(8996,-10.555)]
CO15 = [(488,-9.97),(752,-10.265),(928,-10.50),(940,-10.55),(945,-10.85),(950,-10.56),(1000,-10.62),(1005,-10.85),(1010,-10.63),(1050,-10.67),(1055,-10.88),(1060,-10.68),(1193,-10.77),(1211,-10.78),(1216,-11.17),(1222,-10.79),(1369,-10.94),(1528,-11.065),(1634,-11.18),(1640,-11.23),(1678,-11.23),(1898,-11.36),(2075,-11.465),(2251,-11.51),(2427,-11.57),(2516,-11.59),(2604,-11.40),(2648,-11.60),(2692,-11.32),(2740,-11.70),(2780,-11.45),(2824,-11.68),(2868,-11.28),(2956,-11.065),(3045,-10.98),(3309,-10.855),(3573,-10.79),(3700,-10.86),(3750,-10.80),(3820,-10.95),(3870,-10.75),(3926,-10.69),(3970,-10.85),(4014,-10.62),(4191,-10.56),(4279,-10.72),(4320,-10.58),(4455,-10.50),(4808,-10.48),(5161,-10.50),(5180,-10.57),(5200,-10.50),(5513,-10.455),(6130,-10.43),(6571,-10.455),(7453,-10.475),(8335,-10.52),(8500,-10.53),(8542,-10.60),(8580,-10.54),(8662,-10.60),(8700,-10.54),(8996,-10.55)]

WD = [WD01, WD02, WD03, WD04, WD05, WD06, WD07, WD08, WD09, WD10, WD11, WD12, WD13, WD14, WD15]
MS = [MS01, MS02, MS03, MS04, MS05, MS06, MS07, MS08, MS09, MS10, MS11, MS12, MS13, MS14, MS15]
CO = [CO01, CO02, CO03, CO04, CO05, CO06, CO07, CO08, CO09, CO10, CO11, CO12, CO13, CO14, CO15]

# ---------------- layout / style ----------------
YLIM = [(-12.9, -10.77), (-11.61, -10.03), (-11.45, -10.02), (-11.62, -10.19), (-13.14, -10.785),
        (-12.30, -10.582), (-12.86, -10.395), (-12.60, -10.235), (-12.89, -10.89), (-12.705, -10.586),
        (-12.67, -10.53), (-11.326, -9.79), (-12.97, -10.70), (-13.26, -10.71), (-12.38, -9.97)]
YSTEP = [0.5, 0.5, 0.25, 0.25, 0.5, 0.5, 0.5, 0.5, 0.5, 0.5, 0.5, 0.5, 0.5, 0.5, 0.5]
LEG_LOC = ["top_right", "bottom_right", "bottom_right", "bottom_right", "top_right", "top_right",
           "top_right", "top_right", "top_right", "top_right", "top_right", "bottom_right",
           "top_right", "top_right", "center_right"]
# (left, right, top, bottom) borders in px
BORDERS = [(74, 53, 21, 63), (72, 60, 24, 63), (77, 60, 25, 63),
           (82, 53, 27, 60), (73, 50, 19, 62), (71, 61, 22, 61),
           (75, 50, 19, 62), (74, 52, 19, 62), (71, 61, 21, 61),
           (75, 48, 18, 61), (74, 55, 22, 61), (71, 61, 22, 61),
           (75, 48, 19, 46), (74, 52, 21, 46), (70, 65, 25, 46)]
COL_W = [453, 453, 457]
ROW_H = [275, 275, 275, 275, 261]
LABEL_X = [1755, 2610, 4785, 6130, 6705, 7640]
XLIM = (465, 9010)

FONT = "DejaVu Sans"
C_WD = "#9467bd"
C_MS = "#2ca02c"
C_PT = "#d62728"


def style_axis(ax, labels=True, size="13px", tick_standoff=4, label_standoff=4):
    ax.axis_line_color = "black"
    ax.axis_line_width = 1
    ax.major_tick_line_color = "black"
    ax.minor_tick_line_color = "black"
    ax.major_tick_in = 5
    ax.major_tick_out = 0
    ax.minor_tick_in = 3
    ax.minor_tick_out = 0
    ax.major_label_text_color = "black"
    ax.major_label_text_font = FONT
    ax.major_label_text_font_size = size if labels else "0px"
    ax.major_label_standoff = tick_standoff if labels else 0
    ax.axis_label_text_font = FONT
    ax.axis_label_text_font_size = "16px"
    ax.axis_label_text_font_style = "normal"
    ax.axis_label_text_color = "black"
    ax.axis_label_standoff = label_standoff


def ytick_formatter(dec):
    return CustomJSTickFormatter(args=dict(d=dec), code="""
        const s = Math.abs(tick).toFixed(d);
        return (tick < -1e-9 ? "\u2212" : "") + s;
    """)


def make_panel(i):
    r, c = divmod(i, 3)
    bl, br, bt, bb = BORDERS[i]
    ymin, ymax = YLIM[i]
    p = figure(width=COL_W[c], height=ROW_H[r], x_range=Range1d(*XLIM),
               y_range=Range1d(ymin, ymax), output_backend="svg", toolbar_location=None,
               tools="", title=None, min_border_left=bl, min_border_right=br,
               min_border_top=bt, min_border_bottom=bb)
    p.background_fill_color = "white"
    p.border_fill_color = "white"
    p.outline_line_color = "black"
    p.outline_line_width = 1
    p.xgrid.visible = False
    p.ygrid.visible = False

    xt = SingleIntervalTicker(interval=2000, num_minor_ticks=4)
    yt = SingleIntervalTicker(interval=YSTEP[i], num_minor_ticks=5)
    dec = 2 if YSTEP[i] < 0.5 else 1

    xa = p.xaxis[0]
    xa.ticker = xt
    xa.axis_label = "Wavelength [Å]"
    style_axis(xa, size="14px", tick_standoff=6, label_standoff=5)
    ya = p.yaxis[0]
    ya.ticker = yt
    ya.formatter = ytick_formatter(dec)
    ya.axis_label = "log(λFλ) [erg s⁻¹ cm⁻²]"
    style_axis(ya, size="13px")

    # top axis carries the inward ticks and the panel title (as its axis label)
    sp = "\u00a0" * 5
    top = LinearAxis(ticker=xt, formatter=CustomJSTickFormatter(code="return '';"))
    style_axis(top, labels=False, label_standoff=max(0, bt - 18))
    top.axis_label = f"{NAMES[i]}{sp}α:{ALPHA[i]:.2f} β:{BETA[i]:.2f} Ebv:{EBV[i]:.2f}mag"
    top.axis_label_text_font_size = "14px"
    p.add_layout(top, "above")
    rgt = LinearAxis(ticker=yt, formatter=CustomJSTickFormatter(code="return '';"),
                     fixed_location=XLIM[1])
    style_axis(rgt, labels=False, label_standoff=0)
    p.add_layout(rgt, "right")

    wd = WD[i]
    ms = MS[i]
    co = CO[i]
    r_wd = p.line([a for a, b in wd], [b for a, b in wd], line_color=C_WD, line_width=1.5,
                  line_dash="6 3")
    r_ms = p.line([a for a, b in ms], [b for a, b in ms], line_color=C_MS, line_width=1.5,
                  line_dash="6 3")
    r_co = p.line([a for a, b in co], [b for a, b in co], line_color="black", line_width=1)

    ys = PHOT[i]
    es = PHOT_ERR[i]
    p.segment(x0=BAND_WL, y0=[y - e for y, e in zip(ys, es)], x1=BAND_WL,
              y1=[y + e for y, e in zip(ys, es)], line_color=C_PT, line_width=1.5)
    p.scatter(BAND_WL, ys, size=9, fill_color=C_PT, line_color=C_PT)

    ylab = ymin + 0.06 * (ymax - ymin)
    p.text(x=LABEL_X, y=[ylab] * len(BANDS), text=BANDS, text_align="center",
           text_baseline="alphabetic", text_font=value(FONT), text_font_size=value("14px"),
           text_color="black")

    leg = Legend(items=[LegendItem(label=f"WD model T={WD_T[i]:.2f}kK", renderers=[r_wd]),
                        LegendItem(label=f"MS model T={MS_T[i]:.2f}kK", renderers=[r_ms]),
                        LegendItem(label="Composite model", renderers=[r_co])],
                 location=LEG_LOC[i], background_fill_alpha=0, border_line_alpha=0,
                 label_text_font=FONT, label_text_font_size="14px", label_text_color="black",
                 glyph_width=28, glyph_height=20, label_height=20, label_standoff=11,
                 spacing=1, padding=2, margin=5)
    p.add_layout(leg)
    return p


# each figure is wrapped in its own column so that frames in a row are not aligned
rows = []
for r in range(5):
    rows.append(row(*[column(make_panel(3 * r + c)) for c in range(3)]))
layout = column(*rows)

open("out.html", "w").write(file_html(layout, INLINE))
